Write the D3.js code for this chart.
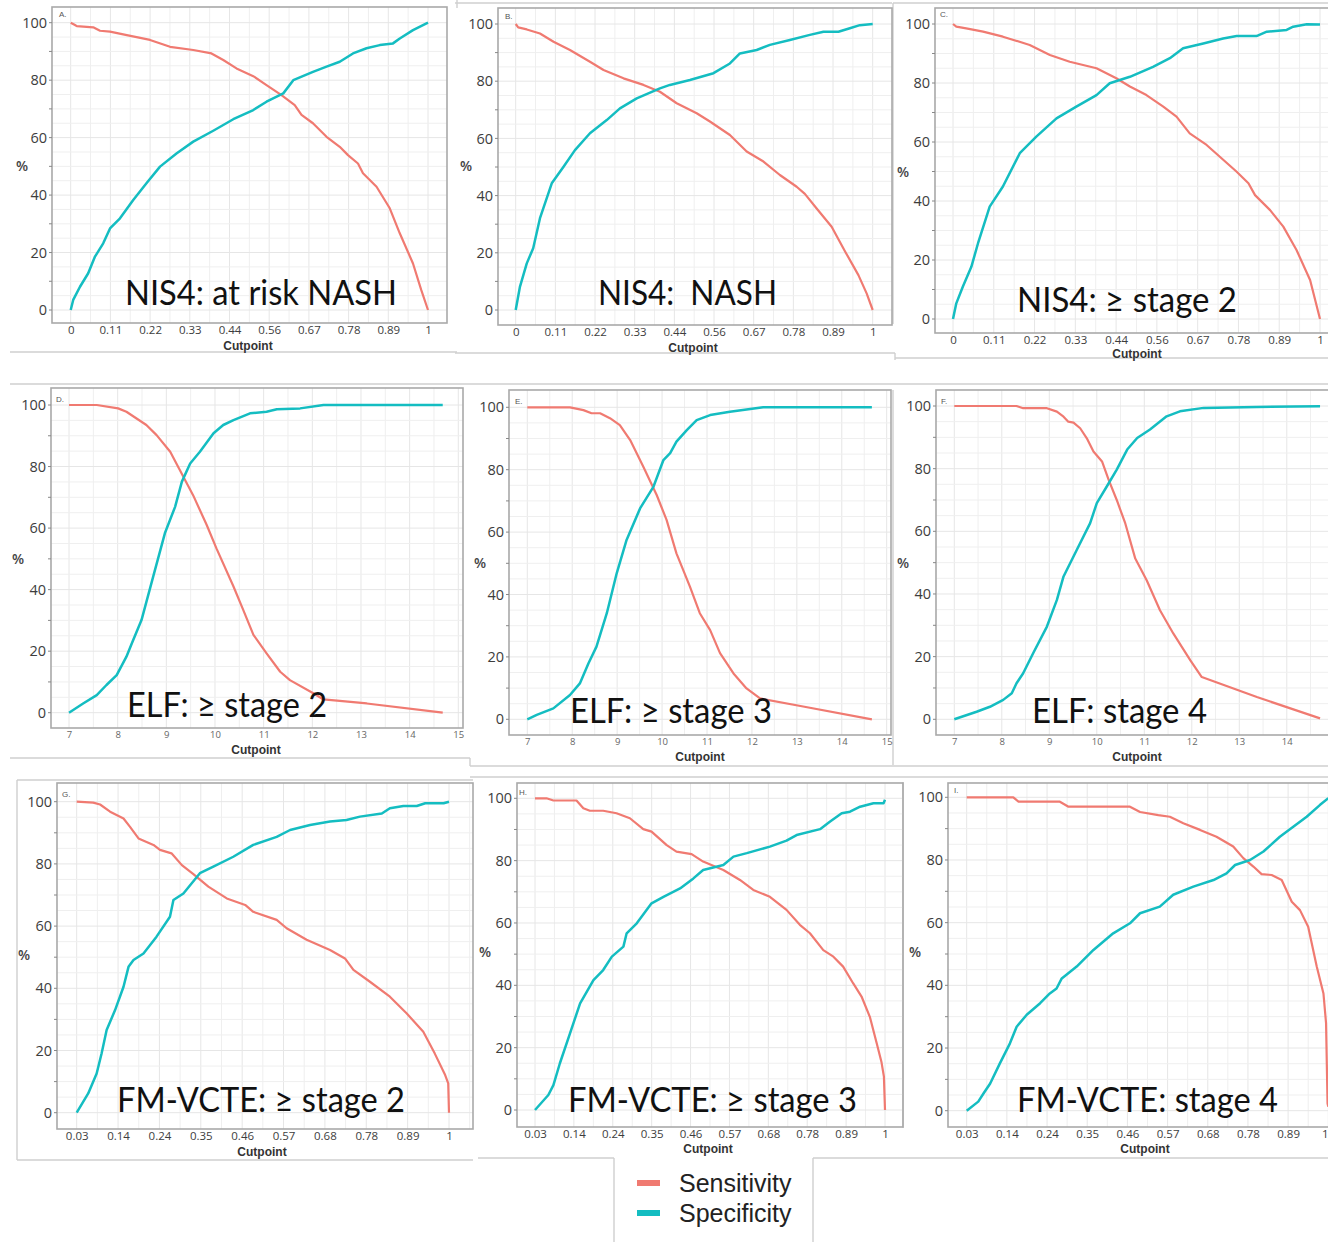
<!DOCTYPE html>
<html>
<head>
<meta charset="utf-8">
<script src="https://cdn.jsdelivr.net/npm/d3@7"></script>
<style>
  html, body { margin: 0; padding: 0; background: #fff; }
  svg { display: block; }
  .ylab { font-family: "Open Sans", "Liberation Sans", sans-serif; font-size: 14.5px; fill: #3d3d3d; }
  .xlab { font-family: "Open Sans", "Liberation Sans", sans-serif; font-size: 11.5px; fill: #3d3d3d; }
  .xlab-small { font-family: "Open Sans", "Liberation Sans", sans-serif; font-size: 9.5px; fill: #666; }
  .axtitle { font-family: "Liberation Sans", Arial, sans-serif; font-weight: bold; font-size: 12px; fill: #333; }
  .pct { font-family: "Open Sans", "Liberation Sans", sans-serif; font-weight: 600; font-size: 14px; fill: #444; }
  .plabel { font-family: "Liberation Sans", Arial, sans-serif; font-size: 8px; fill: #555; }
  .title { font-family: Lato, "Open Sans", sans-serif; font-size: 35px; fill: #111; white-space: pre; }
  .legend { font-family: "Liberation Sans", Arial, sans-serif; font-size: 25px; fill: #222; }
</style>
</head>
<body>
<svg id="chart" width="1328" height="1242"></svg>
<script>
// ---- tick labels ----
const yTicks = [0, 20, 40, 60, 80, 100];
const nis4TickLabels = ["0", "0.11", "0.22", "0.33", "0.44", "0.56", "0.67", "0.78", "0.89", "1"];
const elfTickLabels = ["7", "8", "9", "10", "11", "12", "13", "14", "15"];
const fmTickLabels = ["0.03", "0.14", "0.24", "0.35", "0.46", "0.57", "0.68", "0.78", "0.89", "1"];

// ---- panel titles ----
const panelTitles = ["NIS4: at risk NASH", "NIS4:  NASH", "NIS4: \u2265 stage 2",
  "ELF: \u2265 stage 2", "ELF: \u2265 stage 3", "ELF: stage 4",
  "FM-VCTE: \u2265 stage 2", "FM-VCTE: \u2265 stage 3", "FM-VCTE: stage 4"];
const panelLetters = ["A.", "B.", "C.", "D.", "E.", "F.", "G.", "H.", "I."];
const seriesNames = ["Sensitivity", "Specificity"];

// ---- series: [cutpoint, %] ----
const sensA = [[0,100],[0.012,99.2],[0.017,98.8],[0.063,98.4],[0.082,97.2],[0.11,96.9],[0.157,95.7],[0.222,94],[0.278,91.6],[0.343,90.5],[0.394,89.3],[0.427,87],[0.464,84.1],[0.511,81.4],[0.548,78.3],[0.59,74.8],[0.627,71.3],[0.646,67.9],[0.678,65],[0.716,60.3],[0.753,56.8],[0.776,53.9],[0.804,51],[0.818,47.6],[0.856,42.9],[0.893,35.4],[0.921,26.7],[0.958,16.2],[0.981,7],[1,0]];
const specA = [[0,0],[0.007,3.5],[0.026,8.1],[0.049,12.8],[0.068,18.6],[0.091,23.2],[0.11,28.4],[0.138,31.9],[0.175,38.3],[0.212,44.1],[0.25,49.9],[0.296,54.5],[0.343,58.6],[0.399,62.4],[0.455,66.4],[0.511,69.6],[0.548,72.5],[0.595,75.4],[0.623,80],[0.678,82.9],[0.716,84.7],[0.753,86.4],[0.79,89.3],[0.828,91.1],[0.865,92.2],[0.902,92.8],[0.921,94.5],[0.958,97.4],[1,100]];

const sensB = [[0,100],[0.007,98.8],[0.031,98.1],[0.068,96.7],[0.106,93.8],[0.152,90.9],[0.208,86.8],[0.246,83.9],[0.302,81],[0.358,78.7],[0.404,76.3],[0.451,72.3],[0.507,68.8],[0.544,65.9],[0.6,61.2],[0.647,55.4],[0.694,51.9],[0.74,47.2],[0.787,43.1],[0.81,40.6],[0.843,35.5],[0.885,29.1],[0.923,20.4],[0.96,12.2],[0.983,5.8],[1,0]];
const specB = [[0,0],[0.012,8.2],[0.031,16.3],[0.049,21.6],[0.068,32.1],[0.101,44.3],[0.134,50.1],[0.166,55.9],[0.208,61.8],[0.255,66.4],[0.292,70.5],[0.339,74],[0.404,77.5],[0.432,78.7],[0.488,80.4],[0.554,82.8],[0.6,86.2],[0.628,89.7],[0.675,90.9],[0.712,92.7],[0.768,94.4],[0.824,96.2],[0.862,97.3],[0.904,97.3],[0.936,98.5],[0.964,99.6],[1,100]];

const sensC = [[0,100],[0.009,99.1],[0.036,98.5],[0.082,97.4],[0.136,95.7],[0.209,92.9],[0.264,89.5],[0.318,87.2],[0.391,85],[0.445,81.6],[0.482,78.8],[0.527,75.9],[0.573,72],[0.609,68.6],[0.645,62.9],[0.691,59],[0.727,55],[0.773,49.9],[0.805,46],[0.823,42],[0.864,36.9],[0.9,31.3],[0.936,23.4],[0.973,13.2],[1,0]];
const specC = [[0,0],[0.009,5.3],[0.027,11],[0.05,17.7],[0.068,25.6],[0.1,38.1],[0.136,44.9],[0.182,56.2],[0.227,61.8],[0.282,68],[0.336,72],[0.391,75.9],[0.427,79.9],[0.482,82.1],[0.545,85.5],[0.591,88.4],[0.627,91.8],[0.682,93.4],[0.736,95.1],[0.773,95.9],[0.827,95.9],[0.855,97.4],[0.909,98],[0.927,99.1],[0.964,99.9],[1,99.8]];

const sensD = [[7,100],[7.57,100],[8.01,98.9],[8.18,97.8],[8.59,93.5],[8.8,90.2],[9.08,84.8],[9.35,76.7],[9.55,70.7],[9.83,61],[10.03,53.4],[10.38,41],[10.58,33.4],[10.79,25.3],[11.06,19.3],[11.34,13.3],[11.54,10.6],[12.02,6.3],[12.23,4.3],[13.12,3],[14.68,0]];
const specD = [[7,0],[7.29,3],[7.57,5.7],[7.77,9],[7.98,12.2],[8.18,18.2],[8.29,22.5],[8.49,30.1],[8.73,44.2],[8.97,58.3],[9.18,66.9],[9.32,75.1],[9.49,81],[9.69,84.8],[9.97,90.8],[10.17,93.5],[10.38,95.1],[10.72,97.3],[11.06,97.8],[11.27,98.6],[11.75,98.9],[12.23,100],[14.68,100]];

const sensE = [[7,100],[7.95,100],[8.25,99.1],[8.43,98.1],[8.62,98.1],[8.84,96.5],[9.06,94.3],[9.29,89.5],[9.58,81],[9.88,71.9],[10.1,63.9],[10.32,53.2],[10.62,42.5],[10.84,34],[11.07,28.6],[11.29,21.2],[11.59,14.7],[11.88,9.9],[12.18,6.7],[13.14,4.1],[14.67,0]];
const specE = [[7,0],[7.21,1.4],[7.58,3.5],[7.95,7.8],[8.17,11.5],[8.36,17.9],[8.54,23.3],[8.77,34],[8.99,46.8],[9.21,57.5],[9.51,67.6],[9.81,74.6],[10.03,83.1],[10.18,85.3],[10.32,89],[10.55,92.7],[10.77,95.9],[11.07,97.5],[11.51,98.6],[12.25,100],[14.67,100]];

const sensF = [[7,100],[8.31,100],[8.45,99.3],[8.95,99.3],[9.16,98.2],[9.3,96.6],[9.4,95],[9.51,94.7],[9.65,92.9],[9.79,89.7],[9.93,85.5],[10.11,82.3],[10.25,76.4],[10.42,70],[10.6,62.5],[10.81,51.3],[11.05,44.4],[11.33,34.8],[11.61,27.4],[11.97,18.8],[12.21,13.5],[13.37,7.1],[14.7,0.3]];
const specF = [[7,0],[7.47,2.4],[7.75,4],[8.03,6.2],[8.21,8.3],[8.31,11.5],[8.45,14.7],[8.66,21.1],[8.95,29.6],[9.16,38.1],[9.3,45.6],[9.58,54.1],[9.86,62.6],[10,69],[10.21,74.3],[10.42,79.7],[10.64,86.1],[10.85,89.8],[11.12,92.5],[11.47,96.7],[11.75,98.3],[12.25,99.4],[13.37,99.7],[14.7,99.9]];

const sensG = [[0.03,100],[0.073,99.7],[0.091,99.1],[0.117,96.8],[0.152,94.6],[0.169,91.9],[0.191,88.2],[0.23,86.1],[0.247,84.5],[0.277,83.4],[0.304,79.6],[0.334,76.7],[0.373,72.7],[0.421,68.9],[0.469,66.8],[0.49,64.6],[0.551,62],[0.577,59.3],[0.629,55.6],[0.69,52.3],[0.729,49.6],[0.751,45.9],[0.794,42.1],[0.846,37.3],[0.89,31.9],[0.933,26],[0.963,19],[0.99,12.1],[0.998,9.4],[1,0]];
const specG = [[0.03,0],[0.06,6.2],[0.082,12.6],[0.095,19.1],[0.108,26.6],[0.13,33],[0.152,40.5],[0.165,46.9],[0.178,49.1],[0.204,51.2],[0.238,56.6],[0.273,63],[0.282,68.4],[0.308,70.5],[0.351,77],[0.386,79.1],[0.438,82.3],[0.49,86.1],[0.551,88.7],[0.586,90.9],[0.638,92.5],[0.69,93.6],[0.733,94.1],[0.768,95.2],[0.825,96.2],[0.846,97.9],[0.881,98.6],[0.916,98.6],[0.938,99.5],[0.986,99.5],[1,100]];

const sensH = [[0.03,100],[0.062,100],[0.081,99.3],[0.145,99.3],[0.164,96.8],[0.182,96],[0.219,96],[0.256,95.2],[0.293,93.6],[0.33,90.1],[0.353,89.3],[0.395,85],[0.422,82.9],[0.464,82.1],[0.496,79.7],[0.552,77],[0.598,73.8],[0.635,70.6],[0.681,68.4],[0.727,64.2],[0.764,59.4],[0.792,56.7],[0.829,51.3],[0.857,49.2],[0.884,46],[0.912,40.6],[0.935,36.4],[0.958,29.9],[0.977,21.4],[0.99,15.5],[0.997,10.7],[1,0]];
const specH = [[0.03,0],[0.067,4.8],[0.081,8],[0.099,15],[0.127,24.6],[0.155,34.2],[0.192,41.7],[0.219,44.9],[0.243,49.2],[0.275,52.4],[0.284,56.7],[0.312,59.9],[0.353,66.3],[0.386,68.4],[0.432,71.1],[0.469,74.3],[0.496,77],[0.552,78.6],[0.58,81.3],[0.617,82.4],[0.681,84.5],[0.727,86.4],[0.755,88.2],[0.82,90.1],[0.847,92.5],[0.88,95.2],[0.903,95.7],[0.931,97.3],[0.968,98.4],[0.996,98.4],[1,99.5]];

const sensI = [[0.03,100],[0.155,100],[0.169,98.6],[0.28,98.6],[0.303,97],[0.468,97],[0.495,95.3],[0.544,94.3],[0.575,93.8],[0.611,91.7],[0.656,89.6],[0.7,87.4],[0.745,84.3],[0.772,80.6],[0.799,77.9],[0.821,75.5],[0.848,75.2],[0.875,73.6],[0.902,66.7],[0.924,64],[0.946,58.7],[0.969,46],[0.987,37.4],[0.994,27.9],[0.998,2.3],[1,1.3]];
const specI = [[0.03,0],[0.061,2.9],[0.075,5.5],[0.093,8.7],[0.119,15.1],[0.146,21.5],[0.164,26.8],[0.191,30.6],[0.227,34.3],[0.253,37.4],[0.271,39],[0.285,42.2],[0.325,46],[0.37,51.3],[0.423,56.6],[0.468,59.8],[0.495,63],[0.548,65.1],[0.584,68.9],[0.638,71.5],[0.692,73.6],[0.727,75.7],[0.75,78.4],[0.79,80],[0.826,82.7],[0.87,87.4],[0.906,90.6],[0.942,93.8],[0.978,97.6],[1,99.7]];

// ---- drawing ----
const SENS_COLOR = "#F07A71";
const SPEC_COLOR = "#14BDC1";
const WIDTH = 1328;

const svg = d3.select("#chart");

// Axis families: x domain, tick values and their labels
const axisKinds = {
  nis4: { domain: [0, 1], ticks: d3.range(10).map(i => i / 9), labels: nis4TickLabels, cls: "xlab" },
  elf:  { domain: [7, 15], ticks: d3.range(7, 16), labels: elfTickLabels, cls: "xlab-small" },
  fm:   { domain: [0.03, 1], ticks: d3.range(10).map(i => 0.03 + i * 0.97 / 9), labels: fmTickLabels, cls: "xlab" }
};

// Panel layout: frame box, plotting range, label placement
const panels = [
  { kind: "nis4", sens: sensA, spec: specA, frame: [52, 7, 447, 323], xr: [70.7, 428], yr: [310, 22.7], cut: [248, 350], pct: [22, 167], let: [59, 17], title: [125, 305, 272] },
  { kind: "nis4", sens: sensB, spec: specB, frame: [498, 8, 892, 325], xr: [515.7, 872.7], yr: [310, 24], cut: [693, 352], pct: [466, 167], let: [505, 19], title: [598, 305, 179] },
  { kind: "nis4", sens: sensC, spec: specC, frame: [935, 8, 1340, 333], xr: [953, 1320], yr: [319, 24], cut: [1137, 358], pct: [903, 173], let: [940, 17], title: [1017, 312, 220] },
  { kind: "elf", sens: sensD, spec: specD, frame: [51, 388, 463, 728], xr: [69, 458.3], yr: [712.7, 405], cut: [256, 754], pct: [18, 560], let: [56, 402], title: [127, 717, 200] },
  { kind: "elf", sens: sensE, spec: specE, frame: [509, 390, 891, 735], xr: [527.3, 886.7], yr: [719.3, 407.3], cut: [700, 761], pct: [480, 564], let: [515, 404], title: [570, 723, 202] },
  { kind: "elf", sens: sensF, spec: specF, frame: [936, 390, 1340, 735], xr: [954.3, 1334.3], yr: [719.3, 406], cut: [1137, 761], pct: [903, 564], let: [941, 404], title: [1032, 723, 175] },
  { kind: "fm", sens: sensG, spec: specG, frame: [57, 783, 473, 1129], xr: [76.7, 449], yr: [1112.7, 801.7], cut: [262, 1156], pct: [24, 956], let: [62, 797], title: [117, 1112, 288] },
  { kind: "fm", sens: sensH, spec: specH, frame: [517, 783, 903, 1127], xr: [535, 885], yr: [1110, 798.3], cut: [708, 1153], pct: [485, 953], let: [519, 795], title: [568, 1112, 289] },
  { kind: "fm", sens: sensI, spec: specI, frame: [948, 783, 1340, 1127], xr: [966.7, 1328.3], yr: [1110.7, 797.3], cut: [1145, 1153], pct: [915, 953], let: [954, 793], title: [1017, 1112, 261] }
];

// Light grey outlines around each pasted panel and the legend
const outlines = [
  [10, 352, 457, 352], [457, 0, 457, 8],
  [455, 3, 892, 3], [455, 353, 895, 353], [895, 353, 895, 360],
  [893, 3, 1328, 3], [893, 3, 893, 324], [895, 358, 1328, 358],
  [10, 384, 1328, 384], [10, 758, 470, 758], [470, 758, 470, 766], [470, 766, 1328, 766],
  [893, 390, 893, 765],
  [17, 780, 473, 780], [17, 780, 17, 1160], [17, 1160, 473, 1160],
  [470, 777, 1328, 777], [903, 782, 903, 1128],
  [478, 1158, 614, 1158], [813, 1158, 1328, 1158],
  [614, 1158, 614, 1242], [813, 1158, 813, 1242]
];
svg.append("g").selectAll("line").data(outlines).join("line")
  .attr("x1", d => d[0]).attr("y1", d => d[1]).attr("x2", d => d[2]).attr("y2", d => d[3])
  .attr("stroke", "#cfcfcf").attr("stroke-width", 1.4);

panels.forEach((p, i) => {
  const ak = axisKinds[p.kind];
  const [fx0, fy0, fx1, fy1] = p.frame;
  const x = d3.scaleLinear().domain(ak.domain).range(p.xr);
  const y = d3.scaleLinear().domain([0, 100]).range(p.yr);
  const g = svg.append("g");

  // clip to the frame
  const clipId = "clip" + i;
  g.append("clipPath").attr("id", clipId).append("rect")
    .attr("x", fx0).attr("y", fy0).attr("width", fx1 - fx0).attr("height", fy1 - fy0);
  const inner = g.append("g").attr("clip-path", `url(#${clipId})`);

  // grid: every half tick on x, every 5 % on y
  const step = ak.ticks[1] - ak.ticks[0];
  const xGrid = d3.range(0, 2 * (ak.ticks.length + 1)).map(k => ak.domain[0] + k * step / 2);
  const yGrid = d3.range(0, 101, 5);
  inner.append("g").selectAll("line").data(xGrid).join("line")
    .attr("x1", d => x(d)).attr("x2", d => x(d)).attr("y1", fy0).attr("y2", fy1)
    .attr("stroke", (d, k) => k % 2 === 0 ? "#e6e6e6" : "#efefef").attr("stroke-width", 1);
  inner.append("g").selectAll("line").data(yGrid).join("line")
    .attr("x1", fx0).attr("x2", fx1).attr("y1", d => y(d)).attr("y2", d => y(d))
    .attr("stroke", d => d % 20 === 0 ? "#e6e6e6" : "#efefef").attr("stroke-width", 1);

  // curves
  const line = d3.line().x(d => x(d[0])).y(d => y(d[1]));
  inner.append("path").datum(p.sens).attr("d", line)
    .attr("fill", "none").attr("stroke", SENS_COLOR).attr("stroke-width", 2.2)
    .attr("stroke-linejoin", "round");
  inner.append("path").datum(p.spec).attr("d", line)
    .attr("fill", "none").attr("stroke", SPEC_COLOR).attr("stroke-width", 2.5)
    .attr("stroke-linejoin", "round");

  // frame
  g.append("rect").attr("x", fx0).attr("y", fy0).attr("width", fx1 - fx0).attr("height", fy1 - fy0)
    .attr("fill", "none").attr("stroke", "#a9a9a9").attr("stroke-width", 1.6);

  // y axis
  const yAxis = d3.axisLeft(y).tickValues(yTicks).tickSize(0).tickPadding(5);
  const ya = g.append("g").attr("transform", `translate(${fx0},0)`).call(yAxis);
  ya.select(".domain").remove();
  ya.selectAll("text").attr("class", "ylab").attr("fill", null);
  // minor y ticks every 10 %
  g.append("g").selectAll("line").data(d3.range(0, 101, 10)).join("line")
    .attr("x1", fx0 - 3).attr("x2", fx0).attr("y1", d => y(d)).attr("y2", d => y(d))
    .attr("stroke", "#888").attr("stroke-width", 1);

  // x axis: only ticks that fall inside the page
  const visibleTicks = ak.ticks.filter(t => x(t) < WIDTH + 2);
  const xAxis = d3.axisBottom(x).tickValues(visibleTicks)
    .tickFormat(d => ak.labels[ak.ticks.indexOf(d)]).tickSize(0).tickPadding(3);
  const xa = g.append("g").attr("transform", `translate(0,${fy1})`).call(xAxis);
  xa.select(".domain").remove();
  xa.selectAll("text").attr("class", ak.cls).attr("fill", null)
    .attr("text-anchor", d => x(d) > WIDTH - 4 ? "end" : "middle")
    .attr("dx", d => x(d) > WIDTH - 4 ? WIDTH - x(d) : 0);

  // axis titles
  g.append("text").attr("class", "axtitle").attr("x", p.cut[0]).attr("y", p.cut[1])
    .attr("text-anchor", "middle").text("Cutpoint");
  g.append("text").attr("class", "pct").attr("x", p.pct[0]).attr("y", p.pct[1])
    .attr("text-anchor", "middle").attr("dominant-baseline", "middle").text("%");
  g.append("text").attr("class", "plabel").attr("x", p.let[0]).attr("y", p.let[1]).text(panelLetters[i]);

  // overlaid panel title
  g.append("text").attr("class", "title").attr("x", p.title[0]).attr("y", p.title[1])
    .attr("textLength", p.title[2]).attr("lengthAdjust", "spacingAndGlyphs")
    .text(panelTitles[i]);
});

// legend
const legendColors = [SENS_COLOR, SPEC_COLOR];
const lg = svg.append("g");
seriesNames.forEach((name, k) => {
  const cy = 1183 + k * 30;
  lg.append("rect").attr("x", 637).attr("y", cy - 3).attr("width", 23).attr("height", 6).attr("fill", legendColors[k]);
  lg.append("text").attr("class", "legend").attr("x", 679).attr("y", cy)
    .attr("dominant-baseline", "central").text(name);
});
</script>
</body>
</html>
